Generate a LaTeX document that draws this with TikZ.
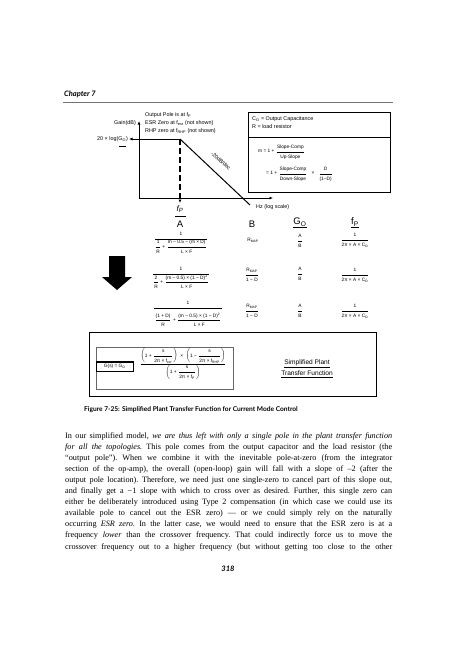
\documentclass[tikz,border=0pt]{standalone}
\usepackage{amsmath}
\usepackage{fontspec}
\setmainfont{Liberation Serif}
\newfontfamily\dgf{Liberation Sans}
\newfontfamily\gsf{Lato}
\usetikzlibrary{arrows.meta}
\tikzset{
 lbl/.style={inner sep=0pt, font=\dgf\fontsize{5.4}{6.2}\selectfont},
 frm/.style={inner sep=0pt, font=\dgf\fontsize{4.8}{5.6}\selectfont},
 hdr/.style={inner sep=0pt, font=\dgf\fontsize{9.5}{10}\selectfont},
 ax/.style={line width=1pt, -{Latex[length=3.5pt,width=3pt]}},
 bodyl/.style={anchor=west, inner sep=0pt, font=\frenchspacing\fontsize{8.2}{9}\selectfont},
 thinline/.style={line width=0.6pt},
}
\newcommand{\fr}[2]{\dfrac{\mbox{#1}}{\mbox{#2}}}
\newcommand{\jl}[1]{\makebox[327pt][s]{#1}}
\begin{document}
\begin{tikzpicture}[x=1pt,y=-1pt]
\useasboundingbox (0,0) rectangle (474,669);
\fill[white] (0,0) rectangle (474,669);

% header
\node[anchor=west, inner sep=0pt, font=\gsf\bfseries\itshape\fontsize{7.5}{8}\selectfont] (chap) at (64,94) {Chapter 7};
\coordinate (r1) at (63,102);
\coordinate (r2) at (393,102);
\draw[black!55, line width=0.9pt] (r1) -- (r2);

% graph
\coordinate (O) at (139,198);
\coordinate (Ytop) at (139,121);
\coordinate (Xend) at (273,198);
\coordinate (G1) at (129,139);
\coordinate (P) at (180,139);
\coordinate (S) at (250,205);
\coordinate (Pd) at (180,203);
\draw[ax] (O) -- (Ytop);
\draw[ax] (O) -- (Xend);
\draw[ax] (P) -- (G1);
\draw[line width=1pt] (P) -- (S);
\draw[line width=1.2pt, dash pattern=on 6pt off 3pt, -{Latex[length=3.5pt,width=3pt]}] (P) -- (Pd);

\node[lbl, anchor=east] (gain) at (136,123) {Gain(dB)};
\node[lbl, anchor=east] (glog) at (128,139) {20 × log(G\textsubscript{O})};
\coordinate (u1) at (119,146);
\coordinate (u2) at (126,146);
\draw[thinline] (u1) -- (u2);
\node[lbl, anchor=west] (t1) at (145,115) {Output Pole is at f\textsubscript{P}};
\node[lbl, anchor=west] (t2) at (145,123) {ESR Zero at f\textsubscript{esr} (not shown)};
\node[lbl, anchor=west] (t3) at (145,131) {RHP zero at f\textsubscript{RHP} (not shown)};
\node[lbl, rotate=-43] (slp) at (221,161) {-20dB/dec};
\node[lbl, anchor=west] (hz) at (256,207) {Hz (log scale)};

% info box
\node[draw, line width=0.8pt, minimum width=142pt, minimum height=80pt, anchor=north west, inner sep=0pt] (ibox) at (248,112) {};
\coordinate (d1) at (248,137);
\coordinate (d2) at (390,137);
\draw[line width=0.8pt] (d1) -- (d2);
\node[lbl, anchor=west] (co) at (252,119) {C\textsubscript{O} = Output Capacitance};
\node[lbl, anchor=west] (rl) at (252,127) {R = load resistor};
\node[frm, anchor=west] (m1) at (258,152) {m = 1 + $\fr{Slope-Comp}{Up-Slope}$};
\node[frm, anchor=west] (m2) at (266,174) {= 1 + $\fr{Slope-Comp}{Down-Slope}$\;\; × \;\;$\fr{D}{(1−D)}$};

% fP and column headers
\node[inner sep=0pt, font=\dgf\itshape\fontsize{8}{9}\selectfont] (fpl) at (180,209) {f\textsubscript{P}};
\coordinate (fu1) at (175,216);
\coordinate (fu2) at (186,216);
\draw[thinline] (fu1) -- (fu2);
\node[hdr] (hA) at (180,224) {A};
\node[hdr] (hB) at (252,224) {B};
\node[hdr] (hG) at (300,223) {\underline{G\textsubscript{O}}};
\node[hdr] (hF) at (355,223) {\underline{f\textsubscript{P}}};

% row 1
\node[frm] (a1) at (181,243) {$\dfrac{\mbox{1}}{\fr{1}{R}\mbox{ + }\fr{m − 0.5 − (m × D)}{L × F}}$};
\node[frm] (b1) at (253,240) {R\textsubscript{MAP}};
\node[frm] (g1) at (300,241) {$\fr{A}{B}$};
\node[frm] (f1) at (355,240) {$\fr{1}{2π × A × C\textsubscript{O}}$};

% row 2
\node[frm] (a2) at (181,278) {$\dfrac{\mbox{1}}{\fr{2}{R}\mbox{ + }\fr{(m − 0.5) × (1 − D)\textsuperscript{2}}{L × F}}$};
\node[frm] (b2) at (252,275) {$\fr{R\textsubscript{MAP}}{1 − D}$};
\node[frm] (g2) at (300,274) {$\fr{A}{B}$};
\node[frm] (f2) at (355,275) {$\fr{1}{2π × A × C\textsubscript{O}}$};

% row 3
\node[frm] (a3) at (188,314) {$\genfrac{}{}{1.2pt}{0}{\mbox{1}}{\fr{(1 + D)}{R}\mbox{ + }\fr{(m − 0.5) × (1 − D)\textsuperscript{2}}{L × F}}$};
\node[frm] (b3) at (252,311) {$\fr{R\textsubscript{MAP}}{1 − D}$};
\node[frm] (g3) at (300,311) {$\fr{A}{B}$};
\node[frm] (f3) at (355,311) {$\fr{1}{2π × A × C\textsubscript{O}}$};

% big arrow
\fill (109,256) -- (125,256) -- (125,277) -- (132,277) -- (117,290) -- (102,277) -- (109,277) -- cycle;

% transfer function box
\node[draw, line width=1.2pt, minimum width=287pt, minimum height=64pt, anchor=north west, inner sep=0pt] (tbox) at (89,332) {};
\node[draw, black!60, line width=0.6pt, minimum width=137pt, minimum height=42pt, anchor=north west, inner sep=0pt] (ibx) at (96,347) {};
\node[draw, line width=0.5pt, minimum width=37pt, minimum height=9pt, anchor=north west, inner sep=0pt] (gcell) at (96,362) {};
\draw[line width=1.5pt] (gcell.north west) -- (gcell.north east);
\node[frm] (gs) at (gcell.center) {G(s) = G\textsubscript{O}};
\node[frm] (gf) at (183,364) {$\dfrac{\left(\mbox{1 + }\fr{s}{2π × f\textsubscript{esr}}\right)\mbox{ × }\left(\mbox{1 − }\fr{s}{2π × f\textsubscript{RHP}}\right)}{\left(\mbox{1 + }\fr{s}{2π × f\textsubscript{P}}\right)}$};
\node[inner sep=0pt, font=\dgf\fontsize{6.6}{7}\selectfont] (sp1) at (307,364) {\underline{Simplified Plant}};
\node[inner sep=0pt, font=\dgf\fontsize{6.6}{7}\selectfont] (sp2) at (307,374) {\underline{Transfer Function}};

% caption
\node[anchor=west, inner sep=0pt, font=\gsf\bfseries\fontsize{6.6}{7}\selectfont] (cap) at (84,410) {Figure 7-25: Simplified Plant Transfer Function for Current Mode Control};

% body text
\node[bodyl] (l1) at (65,436) {\jl{In our simplified model, \emph{we are thus left with only a single pole in the plant transfer function}}};
\node[bodyl] (l2) at (65,447.1) {\jl{\emph{for all the topologies.} This pole comes from the output capacitor and the load resistor (the}};
\node[bodyl] (l3) at (65,458.2) {\jl{“output pole”). When we combine it with the inevitable pole-at-zero (from the integrator}};
\node[bodyl] (l4) at (65,469.3) {\jl{section of the op-amp), the overall (open-loop) gain will fall with a slope of –2 (after the}};
\node[bodyl] (l5) at (65,480.4) {\jl{output pole location). Therefore, we need just one single-zero to cancel part of this slope out,}};
\node[bodyl] (l6) at (65,491.5) {\jl{and finally get a −1 slope with which to cross over as desired. Further, this single zero can}};
\node[bodyl] (l7) at (65,502.6) {\jl{either be deliberately introduced using Type 2 compensation (in which case we could use its}};
\node[bodyl] (l8) at (65,513.7) {\jl{available pole to cancel out the ESR zero) — or we could simply rely on the naturally}};
\node[bodyl] (l9) at (65,524.8) {\jl{occurring \emph{ESR zero}. In the latter case, we would need to ensure that the ESR zero is at a}};
\node[bodyl] (l10) at (65,535.9) {\jl{frequency \emph{lower} than the crossover frequency. That could indirectly force us to move the}};
\node[bodyl] (l11) at (65,547) {\jl{crossover frequency out to a higher frequency (but without getting too close to the other}};

\node[inner sep=0pt, font=\gsf\bfseries\itshape\fontsize{7.5}{8}\selectfont] (pg) at (228,569) {318};
\end{tikzpicture}
\end{document}
